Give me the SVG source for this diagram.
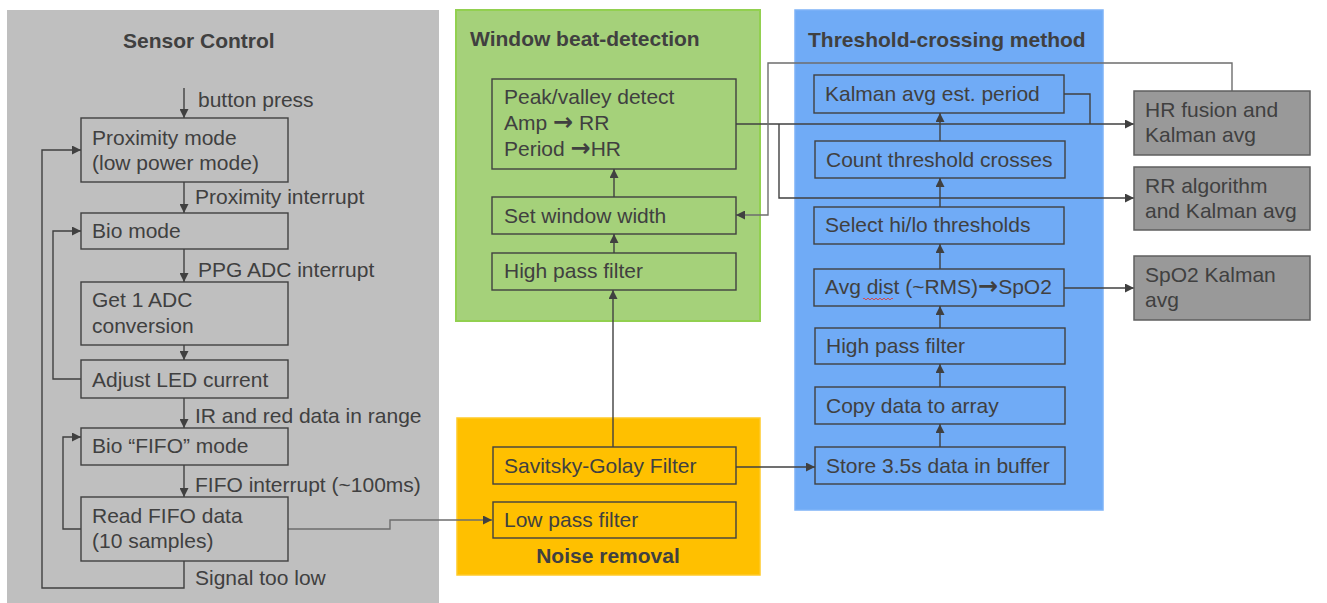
<svg xmlns="http://www.w3.org/2000/svg" width="1327" height="603" viewBox="0 0 1327 603">
<defs>
<marker id="ah" markerUnits="userSpaceOnUse" markerWidth="10" markerHeight="9" refX="9" refY="4.5" orient="auto">
<path d="M0,0 L9,4.5 L0,9 z" fill="#404040"/>
</marker>
<style>
text{font-family:"Liberation Sans",Arial,sans-serif;font-size:21px;fill:#404040}
.t{font-weight:bold}
.ar{font-family:"DejaVu Sans",sans-serif;font-weight:bold;font-size:24px}
.box{fill:none;stroke:#404040;stroke-width:1.4}
.res{fill:#999999;stroke:#5f5f5f;stroke-width:1.5}
.c{fill:none;stroke:#404040;stroke-width:1.4}
.g{fill:none;stroke:#6e6e6e;stroke-width:1.4}
.a{marker-end:url(#ah)}
</style>
</defs>
<rect width="1327" height="603" fill="#ffffff"/>
<g id="panels">
<rect id="sensor-panel" x="7" y="10" width="432" height="593" fill="#bfbfbf"/>
<rect id="window-panel" x="456" y="10" width="304" height="311" fill="#a5d17a" stroke="#92d050" stroke-width="2"/>
<rect id="threshold-panel" x="795" y="10" width="308" height="500" fill="#70abf6" stroke="#7db3f7" stroke-width="1.5"/>
<rect id="noise-panel" x="457" y="418" width="303" height="157" fill="#ffc000" stroke="#ffca28" stroke-width="1.5"/>
<text class="t" x="123" y="48">Sensor Control</text>
<text class="t" x="470" y="46">Window beat-detection</text>
<text class="t" x="808" y="47">Threshold-crossing method</text>
<text class="t" x="608" y="563" text-anchor="middle">Noise removal</text>
</g>
<g id="connectors">
<path class="c a" d="M184,88 V118"/>
<path class="c a" d="M184,182 V213"/>
<path class="c a" d="M184,249 V282"/>
<path class="c a" d="M184,345 V360"/>
<path class="c a" d="M184,398 V428"/>
<path class="c a" d="M184,465 V497"/>
<path class="c a" d="M184,561 V588 H42 V150 H81"/>
<path class="c a" d="M81,379 H53 V231 H81"/>
<path class="c a" d="M81,529 H63 V437 H81"/>
<path class="g a" d="M288,529 H390 V520 H492"/>
<path class="c a" d="M613,447 V290"/>
<path class="c a" d="M614,253 V234"/>
<path class="c a" d="M614,197 V169"/>
<path class="c a" d="M736,467 H815"/>
<path class="c a" d="M940,447 V424"/>
<path class="c a" d="M940,387 V364"/>
<path class="c a" d="M940,328 V306"/>
<path class="c a" d="M940,269 V244"/>
<path class="c a" d="M940,207 V178"/>
<path class="c a" d="M940,141 V113"/>
<path class="c a" d="M736,124 H1134"/>
<path class="c a" d="M779,124 V198 H1134"/>
<path class="c" d="M1064,94 H1090 V124"/>
<path class="g a" d="M1232,91 V63 H768 V215 H736"/>
<path class="c a" d="M1064,288 H1134"/>
<text x="198" y="107">button press</text>
<text x="195" y="204">Proximity interrupt</text>
<text x="198" y="277">PPG ADC interrupt</text>
<text x="195" y="423">IR and red data in range</text>
<text x="195" y="492">FIFO interrupt (~100ms)</text>
<text x="195" y="585">Signal too low</text>
</g>
<g id="proximity-mode"><rect class="box" x="81" y="118" width="207" height="64"/><text x="92" y="145">Proximity mode</text><text x="92" y="170">(low power mode)</text></g>
<g id="bio-mode"><rect class="box" x="81" y="213" width="207" height="36"/><text x="92" y="238">Bio mode</text></g>
<g id="get-adc"><rect class="box" x="81" y="282" width="207" height="63"/><text x="92" y="307">Get 1 ADC</text><text x="92" y="333">conversion</text></g>
<g id="adjust-led"><rect class="box" x="81" y="360" width="207" height="38"/><text x="92" y="387">Adjust LED current</text></g>
<g id="bio-fifo"><rect class="box" x="81" y="428" width="207" height="37"/><text x="92" y="453">Bio “FIFO” mode</text></g>
<g id="read-fifo"><rect class="box" x="81" y="497" width="207" height="64"/><text x="92" y="523">Read FIFO data</text><text x="92" y="548">(10 samples)</text></g>
<g id="peak-valley"><rect class="box" x="492" y="79" width="244" height="90"/><text x="504" y="104">Peak/valley detect</text><text x="504" y="130">Amp <tspan class="ar">→</tspan> RR</text><text x="504" y="156">Period <tspan class="ar">→</tspan>HR</text></g>
<g id="set-window"><rect class="box" x="492" y="197" width="244" height="37"/><text x="504" y="223">Set window width</text></g>
<g id="hp-window"><rect class="box" x="492" y="253" width="244" height="37"/><text x="504" y="278">High pass filter</text></g>
<g id="savitsky"><rect class="box" x="493" y="447" width="243" height="37"/><text x="504" y="473">Savitsky-Golay Filter</text></g>
<g id="low-pass"><rect class="box" x="493" y="502" width="243" height="36"/><text x="504" y="527">Low pass filter</text></g>
<g id="kalman-period"><rect class="box" x="814" y="75" width="250" height="38"/><text x="825" y="101">Kalman avg est. period</text></g>
<g id="count-crosses"><rect class="box" x="815" y="141" width="250" height="37"/><text x="826" y="167">Count threshold crosses</text></g>
<g id="select-thresholds"><rect class="box" x="814" y="207" width="250" height="37"/><text x="825" y="232">Select hi/lo thresholds</text></g>
<g id="avg-dist"><rect class="box" x="814" y="269" width="250" height="37"/><text x="825" y="294">Avg dist (~RMS)<tspan class="ar">→</tspan>SpO2</text><path d="M863,299 q1,-2 2,0 t2,0 t2,0 t2,0 t2,0 t2,0 t2,0 t2,0 t2,0 t2,0 t2,0 t2,0 t2,0 t2,0 t2,0" fill="none" stroke="#e04040" stroke-width="0.9"/></g>
<g id="hp-threshold"><rect class="box" x="815" y="328" width="250" height="36"/><text x="826" y="353">High pass filter</text></g>
<g id="copy-array"><rect class="box" x="815" y="387" width="250" height="37"/><text x="826" y="413">Copy data to array</text></g>
<g id="store-buffer"><rect class="box" x="815" y="447" width="250" height="37"/><text x="826" y="473">Store 3.5s data in buffer</text></g>
<g id="hr-fusion"><rect class="res" x="1134" y="91" width="176" height="64"/><text x="1145" y="117">HR fusion and</text><text x="1145" y="142">Kalman avg</text></g>
<g id="rr-algorithm"><rect class="res" x="1134" y="167" width="176" height="63"/><text x="1145" y="193">RR algorithm</text><text x="1145" y="218">and Kalman avg</text></g>
<g id="spo2-kalman"><rect class="res" x="1134" y="256" width="176" height="64"/><text x="1145" y="282">SpO2 Kalman</text><text x="1145" y="307">avg</text></g>
</svg>
